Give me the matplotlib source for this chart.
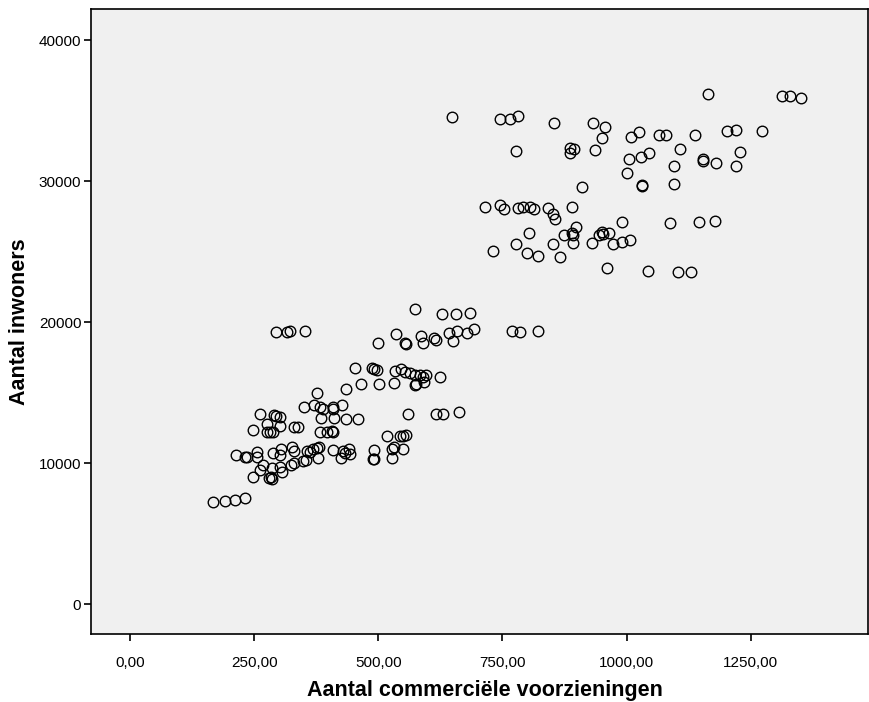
import numpy as np
import matplotlib
matplotlib.use('Agg')
import matplotlib.pyplot as plt
from matplotlib.ticker import FuncFormatter

plt.rcParams['font.family'] = ['Liberation Sans', 'DejaVu Sans']

x_laag = [168, 191, 211, 231, 376, 262, 290, 294, 302, 351, 371, 382, 388,
          247, 276, 303, 275, 282, 288, 331, 338, 384, 382, 396, 213, 231,
          236, 255, 255, 287, 304, 303, 327, 331, 356, 354, 362, 369, 376,
          381, 378, 268, 262, 285, 303, 307, 324, 330, 348, 247, 280, 283,
          285, 294, 317, 322, 352]
y_laag = [7236, 7349, 7399, 7561, 14995, 13487, 13417, 13346, 13254, 13962,
          14125, 13983, 13841, 12355, 12758, 12638, 12234, 12192, 12192, 12588,
          12588, 13183, 12192, 12234, 10585, 10464, 10464, 10818, 10422, 10705,
          11009, 10585, 11172, 10889, 10889, 10231, 10818, 10988, 11059, 11172,
          10393, 9877, 9523, 9643, 9714, 9402, 9877, 9997, 10181, 9048, 8935,
          9048, 8885, 19314, 19314, 19385, 19364]

x_midden = [574, 629, 656, 684, 769, 785, 822, 536, 500, 554, 556, 586, 591,
            613, 617, 643, 659, 678, 693, 650, 453, 488, 492, 497, 533, 545,
            554, 564, 574, 584, 596, 591, 625, 466, 501, 531, 574, 576, 592,
            435, 427, 409, 408, 411, 435, 459, 560, 617, 630, 662, 406, 408,
            517, 544, 550, 556, 409, 428, 433, 441, 444, 425, 492, 489, 491,
            527, 531, 550, 527]
y_midden = [20921, 20617, 20617, 20659, 19364, 19314, 19364, 19173, 18515,
            18564, 18443, 19010, 18535, 18889, 18776, 19243, 19364, 19243,
            19505, 18656, 16765, 16793, 16695, 16603, 16581, 16673, 16461,
            16369, 16270, 16249, 16249, 16086, 16086, 15611, 15633, 15682,
            15519, 15611, 15732, 15257, 14146, 14004, 13820, 13204, 13155,
            13112, 13466, 13487, 13487, 13650, 12284, 12192, 11951, 11930,
            11951, 12001, 10939, 10847, 10705, 10988, 10655, 10393, 10939,
            10301, 10280, 10988, 11130, 11031, 10351]

x_hoog = [649, 746, 766, 781, 854, 933, 956, 950, 778, 886, 894, 886, 937,
          910, 715, 746, 753, 782, 792, 805, 814, 841, 852, 856, 890, 898,
          804, 873, 891, 892, 944, 950, 953, 964, 972, 930, 892, 852, 778,
          731, 800, 821, 866, 961, 1009, 1025, 1065, 1079, 1137, 1202, 1220,
          1272, 1004, 1028, 1046, 1108, 1229, 1153, 1154, 1180, 1095, 1220,
          1000, 1032, 1031, 1096, 1164, 1313, 1329, 1352, 990, 1087, 1145,
          1179, 990, 1007, 1043, 1103, 1129]
y_hoog = [34514, 34373, 34423, 34586, 34140, 34111, 33828, 33028, 32157,
          32341, 32249, 31987, 32228, 29580, 28193, 28285, 28001, 28093,
          28143, 28143, 28001, 28122, 27697, 27343, 28164, 26748, 26324,
          26161, 26324, 26210, 26210, 26394, 26281, 26324, 25545, 25644,
          25594, 25545, 25545, 25049, 24886, 24723, 24653, 23845, 33120,
          33453, 33241, 33290, 33290, 33545, 33595, 33574, 31563, 31733,
          31987, 32249, 32037, 31563, 31450, 31279, 31095, 31067, 30571,
          29750, 29630, 29793, 36143, 36023, 36002, 35882, 27081, 27060,
          27102, 27173, 25686, 25807, 23633, 23562, 23562]

x_waarden = np.array(x_laag + x_midden + x_hoog)
y_waarden = np.array(y_laag + y_midden + y_hoog)

x_ticks = [0, 250, 500, 750, 1000, 1250]
y_ticks = [0, 10000, 20000, 30000, 40000]

fig = plt.figure(figsize=(8.69, 7.02), dpi=100)
ax = fig.add_axes([0.1047, 0.0969, 0.8941, 0.8903])
ax.set_facecolor('#f0f0f0')

ax.plot(x_waarden, y_waarden, 'o', ms=7.6, mfc='none', mec='black', mew=1.0)

ax.set_xlim(-78.5, 1486)
ax.set_ylim(-2090, 42200)
ax.set_xticks(x_ticks)
ax.set_yticks(y_ticks)
ax.xaxis.set_major_formatter(FuncFormatter(lambda v, p: ('%.2f' % v).replace('.', ',')))
ax.yaxis.set_major_formatter(FuncFormatter(lambda v, p: '%d' % v))
ax.tick_params(axis='both', direction='out', length=5, width=1.2,
               labelsize=11, colors='black', pad=2)
ax.tick_params(axis='x', pad=11)

for s in ax.spines.values():
    s.set_linewidth(1.2)
    s.set_color('black')

ax.set_xlabel('Aantal commerciële voorzieningen', fontsize=15.5,
              fontweight='bold')
ax.xaxis.set_label_coords(0.507, -0.074)
ax.set_ylabel('Aantal inwoners', fontsize=15.5, fontweight='bold', labelpad=6)

fig.savefig('out.png', dpi=100)
